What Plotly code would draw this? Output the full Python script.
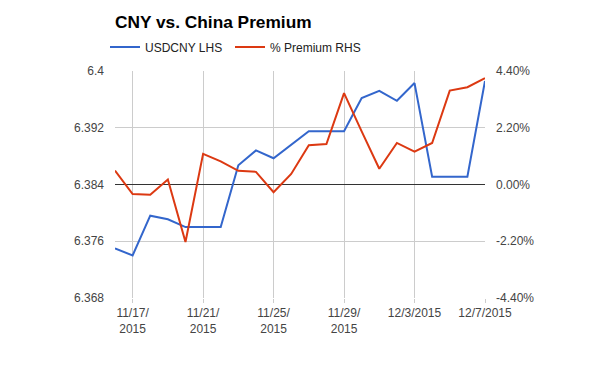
import plotly.graph_objects as go

dates = ["2015-11-16", "2015-11-17", "2015-11-18", "2015-11-19", "2015-11-20", "2015-11-21",
         "2015-11-22", "2015-11-23", "2015-11-24", "2015-11-25", "2015-11-26", "2015-11-27",
         "2015-11-28", "2015-11-29", "2015-11-30", "2015-12-01", "2015-12-02", "2015-12-03",
         "2015-12-04", "2015-12-05", "2015-12-06", "2015-12-07"]

usdcny = [6.3750, 6.3740, 6.3796, 6.3791, 6.3780, 6.3780,
          6.3780, 6.3867, 6.3888, 6.3877, 6.3896, 6.3915,
          6.3915, 6.3915, 6.3962, 6.3972, 6.3958, 6.3983,
          6.3851, 6.3851, 6.3851, 6.3986]

premium = [0.54, -0.37, -0.40, 0.19, -2.23, 1.19,
           0.90, 0.53, 0.49, -0.30, 0.41, 1.52,
           1.57, 3.54, 2.06, 0.61, 1.61, 1.27,
           1.61, 3.64, 3.77, 4.12]

x_tickvals = ["2015-11-17", "2015-11-21", "2015-11-25", "2015-11-29", "2015-12-03", "2015-12-07"]
x_ticktext = ["11/17/<br>2015", "11/21/<br>2015", "11/25/<br>2015", "11/29/<br>2015", "12/3/2015", "12/7/2015"]

left_ticks = [6.368, 6.376, 6.384, 6.392, 6.4]
left_text = ["6.368", "6.376", "6.384", "6.392", "6.4"]
right_ticks = [-4.4, -2.2, 0, 2.2, 4.4]
right_text = ["-4.40%", "-2.20%", "0.00%", "2.20%", "4.40%"]

FONT = "Arial, Liberation Sans, sans-serif"
W, H = 600, 371
ML, MR, MT, MB = 115, 115, 71, 73
PW = W - ML - MR
PH = H - MT - MB

fig = go.Figure()
fig.add_trace(go.Scatter(x=dates, y=usdcny, mode="lines", name="USDCNY LHS",
                         line=dict(color="#3366cc", width=2), legend="legend"))
fig.add_trace(go.Scatter(x=dates, y=premium, mode="lines", name="% Premium RHS",
                         line=dict(color="#dc3912", width=2), yaxis="y2", legend="legend2"))

leg_y = 1 + (MT - 47) / PH
fig.update_layout(
    width=W, height=H,
    margin=dict(l=ML, r=MR, t=MT, b=MB),
    paper_bgcolor="white", plot_bgcolor="white",
    font=dict(family=FONT, size=12, color="#444"),
    title=dict(text="<b>CNY vs. China Premium</b>", x=0, xref="paper", xanchor="left",
               y=1 - 22 / H, yref="container", yanchor="middle",
               font=dict(family=FONT, size=17.3, color="#000")),
    showlegend=True,
    legend=dict(orientation="h", x=(105 - ML) / PW, xanchor="left", y=leg_y, yanchor="middle",
                font=dict(family=FONT, size=12, color="#222"), bgcolor="rgba(0,0,0,0)"),
    legend2=dict(orientation="h", x=(230 - ML) / PW, xanchor="left", y=leg_y, yanchor="middle",
                 font=dict(family=FONT, size=12, color="#222"), bgcolor="rgba(0,0,0,0)"),
    xaxis=dict(type="date", range=["2015-11-16", "2015-12-07"],
               tickvals=x_tickvals, ticktext=x_ticktext,
               showgrid=True, gridcolor="#cccccc", gridwidth=1,
               ticks="outside", ticklen=4, tickcolor="#cccccc",
               showline=False, zeroline=False,
               tickfont=dict(family=FONT, size=12, color="#444")),
    yaxis=dict(range=[6.368, 6.4], tickvals=left_ticks, ticktext=left_text,
               showgrid=True, gridcolor="#cccccc", gridwidth=1, zeroline=False,
               showline=False, ticks="", ticklabelstandoff=10,
               tickfont=dict(family=FONT, size=12, color="#444")),
    yaxis2=dict(range=[-4.4, 4.4], tickvals=right_ticks, ticktext=right_text,
                overlaying="y", side="right", showgrid=False,
                zeroline=True, zerolinecolor="#333333", zerolinewidth=1,
                showline=False, ticks="", ticklabelstandoff=10,
                tickfont=dict(family=FONT, size=12, color="#444")),
)

fig.write_html("out.html", config={"displayModeBar": False},
               post_script="document.body.style.margin='0';")
